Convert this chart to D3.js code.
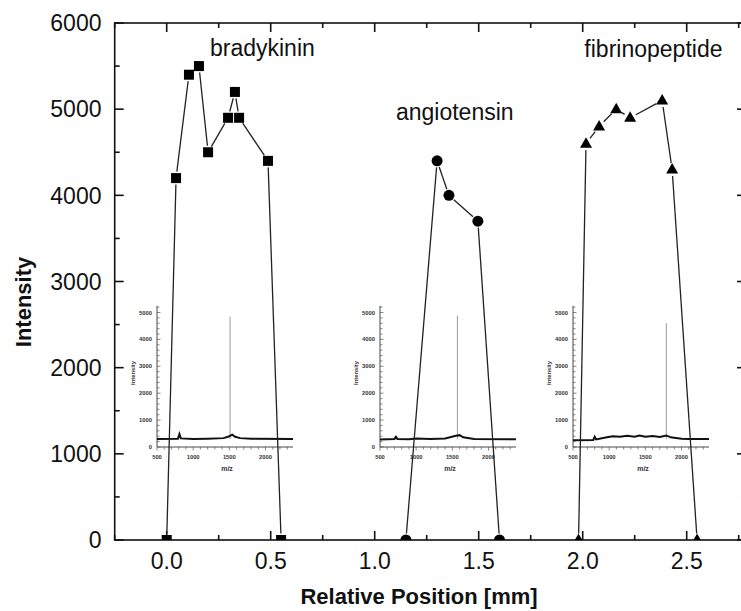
<!DOCTYPE html>
<html>
<head>
<meta charset="utf-8">
<script src="https://cdn.jsdelivr.net/npm/d3@7/dist/d3.min.js"></script>
<style>
  html, body { margin: 0; padding: 0; background: #fff; }
  svg { display: block; font-family: "Liberation Sans", Arial, sans-serif; }
</style>
</head>
<body>
<svg id="svg" width="741" height="611"></svg>
<script>
// main profile: peptide intensity vs. relative position
const bradyX = [0.0, 0.045, 0.107, 0.155, 0.199, 0.295, 0.328, 0.348, 0.487, 0.55];
const bradyY = [0, 4200, 5400, 5500, 4500, 4900, 5200, 4900, 4400, 0];
const angioX = [1.15, 1.30, 1.357, 1.496, 1.60];
const angioY = [0, 4400, 4000, 3700, 0];
const fibX = [1.98, 2.016, 2.079, 2.161, 2.228, 2.382, 2.43, 2.55];
const fibY = [0, 4600, 4800, 5000, 4900, 5100, 4300, 0];

const xTicks = [0.0, 0.5, 1.0, 1.5, 2.0, 2.5];
const yTicks = [0, 1000, 2000, 3000, 4000, 5000, 6000];

const peptideLabels = [
  { text: "bradykinin", x: 0.46, y: 5620 },
  { text: "angiotensin", x: 1.385, y: 4880 },
  { text: "fibrinopeptide", x: 2.34, y: 5600 },
];

// inset spectra (m/z, intensity)
const inset1Base = [[500,300],[790,310],[810,480],[830,320],[1000,300],[1200,310],[1420,330],[1500,400],[1540,460],[1580,380],[1650,330],[1800,310],[2380,300]];
const inset2Base = [[500,280],[700,300],[720,380],[740,300],[900,290],[1000,320],[1200,300],[1400,320],[1550,420],[1600,440],[1650,360],[1800,300],[2380,290]];
const inset3Base = [[500,250],[780,260],[800,380],[820,280],[950,350],[1050,400],[1150,380],[1250,420],[1350,380],[1420,430],[1500,380],[1600,410],[1700,370],[1790,430],[1850,360],[2000,310],[2100,300],[2380,300]];
const insetSpikes = [[1510, 4850], [1570, 4880], [1790, 4600]];
const insetLeft = [157, 380, 573];
const insetXTicks = [500, 1000, 1500, 2000];
const insetYTicks = [0, 1000, 2000, 3000, 4000, 5000];

const svg = d3.select("#svg");
const margin = { left: 114.7, top: 23, bottom: 540 };

const x = d3.scaleLinear().domain([-0.25, 2.785]).range([margin.left, margin.left + 3.035 * 208]);
const y = d3.scaleLinear().domain([0, 6000]).range([margin.bottom, margin.top]);
const x0 = x.range()[0], x1 = x.range()[1];

svg.append("defs").append("clipPath").attr("id", "plot")
  .append("rect").attr("x", x0).attr("y", margin.top)
  .attr("width", x1 - x0).attr("height", margin.bottom - margin.top);

// insets
insetLeft.forEach((left, i) => {
  const base = [inset1Base, inset2Base, inset3Base][i];
  const ix = d3.scaleLinear().domain([500, 2380]).range([left, left + 136]);
  const iy = d3.scaleLinear().domain([0, 5250]).range([447, 305.8]);
  const g = svg.append("g").attr("font-weight", "bold").attr("fill", "#333");

  g.append("line").attr("x1", left).attr("x2", left).attr("y1", iy(0)).attr("y2", iy(5250))
    .attr("stroke", "#333").attr("stroke-width", 0.9);
  g.append("line").attr("x1", left).attr("x2", ix(2380)).attr("y1", iy(0)).attr("y2", iy(0))
    .attr("stroke", "#333").attr("stroke-width", 0.9);
  d3.range(0, 5201, 200).forEach(v => {
    g.append("line").attr("x1", left).attr("x2", left + (v % 1000 === 0 ? 3.5 : 2.5))
      .attr("y1", iy(v)).attr("y2", iy(v)).attr("stroke", "#555").attr("stroke-width", 0.7);
  });
  d3.range(500, 2380, 100).forEach(v => {
    g.append("line").attr("x1", ix(v)).attr("x2", ix(v))
      .attr("y1", iy(0)).attr("y2", iy(0) + (v % 500 === 0 ? 3.5 : 2.5)).attr("stroke", "#555").attr("stroke-width", 0.7);
  });
  insetYTicks.forEach(v => {
    g.append("text").attr("x", left - 5).attr("y", iy(v)).attr("dy", "0.35em")
      .attr("text-anchor", "end").attr("font-size", 5.8).text(v);
  });
  insetXTicks.forEach(v => {
    g.append("text").attr("x", ix(v)).attr("y", 459).attr("text-anchor", "middle")
      .attr("font-size", 5.8).text(v);
  });
  g.append("text").attr("x", left + 70).attr("y", 471).attr("text-anchor", "middle")
    .attr("font-size", 7).text("m/z");
  g.append("text").attr("transform", `translate(${left - 22},373) rotate(-90)`)
    .attr("text-anchor", "middle").attr("font-size", 5.8).text("Intensity");

  const [sm, si] = insetSpikes[i];
  g.append("line").attr("x1", ix(sm)).attr("x2", ix(sm)).attr("y1", iy(300)).attr("y2", iy(si))
    .attr("stroke", "#999").attr("stroke-width", 1);
  g.append("path").datum(base)
    .attr("d", d3.line().x(d => ix(d[0])).y(d => iy(d[1])))
    .attr("fill", "none").attr("stroke", "#111").attr("stroke-width", 2);
});

// frame + ticks
const frame = svg.append("g").attr("stroke", "#111").attr("stroke-width", 1.6);
frame.append("rect").attr("x", x0).attr("y", margin.top).attr("width", x1 - x0)
  .attr("height", margin.bottom - margin.top).attr("fill", "none");
d3.range(-0.25, 2.78, 0.25).forEach(v => {
  const major = Math.abs(v * 2 - Math.round(v * 2)) < 1e-6;
  const len = major ? 9 : 5;
  frame.append("line").attr("x1", x(v)).attr("x2", x(v)).attr("y1", margin.bottom).attr("y2", margin.bottom - len);
  frame.append("line").attr("x1", x(v)).attr("x2", x(v)).attr("y1", margin.top).attr("y2", margin.top + len);
});
d3.range(0, 6001, 500).forEach(v => {
  const len = v % 1000 === 0 ? 9 : 5;
  frame.append("line").attr("x1", x0).attr("x2", x0 + len).attr("y1", y(v)).attr("y2", y(v));
  frame.append("line").attr("x1", x1).attr("x2", x1 - len).attr("y1", y(v)).attr("y2", y(v));
});

const labels = svg.append("g").attr("fill", "#111").attr("font-size", 23);
xTicks.forEach(v => {
  labels.append("text").attr("x", x(v)).attr("y", 569).attr("text-anchor", "middle").text(v.toFixed(1));
});
yTicks.forEach(v => {
  labels.append("text").attr("x", 101.5).attr("y", y(v)).attr("dy", "0.36em").attr("text-anchor", "end").text(v);
});
svg.append("text").attr("x", 419).attr("y", 604).attr("text-anchor", "middle")
  .attr("font-size", 22).attr("font-weight", "bold").attr("fill", "#111").text("Relative Position [mm]");
svg.append("text").attr("transform", "translate(31,302) rotate(-90)").attr("text-anchor", "middle")
  .attr("font-size", 22).attr("font-weight", "bold").attr("fill", "#111").text("Intensity");

peptideLabels.forEach(d => {
  svg.append("text").attr("x", x(d.x)).attr("y", y(d.y)).attr("text-anchor", "middle")
    .attr("font-size", 23).attr("fill", "#111").text(d.text);
});

// data lines (Origin style, gaps at the markers) and symbols
const plot = svg.append("g").attr("clip-path", "url(#plot)");
const series = [
  { xs: bradyX, ys: bradyY, sym: "square" },
  { xs: angioX, ys: angioY, sym: "circle" },
  { xs: fibX, ys: fibY, sym: "triangle" },
];
const gap = 6.5;
series.forEach(s => {
  const pts = s.xs.map((v, i) => [x(v), y(s.ys[i])]);
  d3.pairs(pts).forEach(([a, b]) => {
    const dx = b[0] - a[0], dy = b[1] - a[1], L = Math.hypot(dx, dy);
    if (L <= gap * 2) return;
    const ux = dx / L, uy = dy / L;
    plot.append("line")
      .attr("x1", a[0] + ux * gap).attr("y1", a[1] + uy * gap)
      .attr("x2", b[0] - ux * gap).attr("y2", b[1] - uy * gap)
      .attr("stroke", "#222").attr("stroke-width", 1.3);
  });
  pts.forEach(p => {
    if (s.sym === "square") {
      plot.append("rect").attr("x", p[0] - 5).attr("y", p[1] - 5).attr("width", 10).attr("height", 10).attr("fill", "#000");
    } else if (s.sym === "circle") {
      plot.append("circle").attr("cx", p[0]).attr("cy", p[1]).attr("r", 5.5).attr("fill", "#000");
    } else {
      plot.append("path").attr("d", `M${p[0]},${p[1] - 6.5}L${p[0] + 6},${p[1] + 4}L${p[0] - 6},${p[1] + 4}Z`).attr("fill", "#000");
    }
  });
});
</script>
</body>
</html>
